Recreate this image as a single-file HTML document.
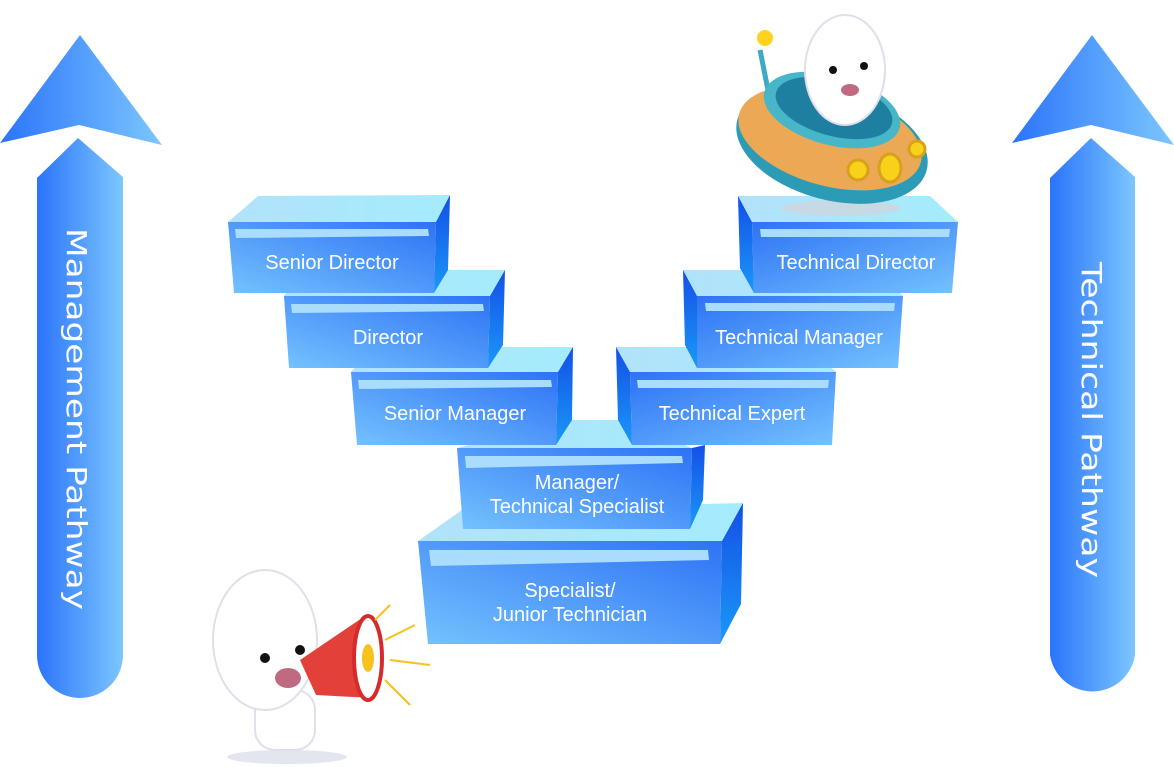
<!DOCTYPE html>
<html><head><meta charset="utf-8"><style>
html,body{margin:0;padding:0;background:#fff;width:1174px;height:767px;overflow:hidden}
svg{display:block}
text{font-family:"Liberation Sans",sans-serif;fill:#fff}
.ar{font-family:"DejaVu Sans","Liberation Sans",sans-serif}
</style></head><body>
<svg width="1174" height="767" viewBox="0 0 1174 767" xmlns="http://www.w3.org/2000/svg">
<defs>
<linearGradient id="ar" x1="0" y1="0" x2="1" y2="0"><stop offset="0" stop-color="#2a74fb"/><stop offset="1" stop-color="#7cc6ff"/></linearGradient>
<linearGradient id="fr" x1="0" y1="1" x2="1" y2="0"><stop offset="0" stop-color="#74c2fe"/><stop offset="1" stop-color="#2e72f6"/></linearGradient>
<linearGradient id="frR" x1="1" y1="1" x2="0" y2="0"><stop offset="0" stop-color="#74c2fe"/><stop offset="1" stop-color="#2e72f6"/></linearGradient>
<linearGradient id="tp" x1="0" y1="0" x2="1" y2="0"><stop offset="0" stop-color="#b2e2fb"/><stop offset="1" stop-color="#a4ecfd"/></linearGradient>
<linearGradient id="sd" x1="0" y1="0" x2="0" y2="1"><stop offset="0" stop-color="#1450e6"/><stop offset="1" stop-color="#1a98f8"/></linearGradient>
</defs>
<polygon points="80,35 162,145 79,125 0,143" fill="url(#ar)"/>
<path d="M37,178 L78,138 L123,177 L123,655 A43,43 0 0 1 37,655 Z" fill="url(#ar)"/>
<text class="ar" transform="translate(75,419) rotate(90)" font-size="28" text-anchor="middle" dominant-baseline="middle" textLength="382" lengthAdjust="spacingAndGlyphs">Management Pathway</text>
<polygon points="1092,35 1174,145 1091,125 1012,143" fill="url(#ar)"/>
<path d="M1050,178 L1091,138 L1135,177 L1135,655 A43,43 0 0 1 1050,655 Z" fill="url(#ar)"/>
<text class="ar" transform="translate(1090,420) rotate(90)" font-size="28" text-anchor="middle" dominant-baseline="middle" textLength="316" lengthAdjust="spacingAndGlyphs">Technical Pathway</text>

<g>
<polygon points="418,541 462,510 743,503 722,541" fill="url(#tp)"/>
<polygon points="722,541 743,503 741,604 720,644" fill="url(#sd)"/>
<polygon points="418,541 722,541 720,644 428,644" fill="url(#fr)"/>
<polygon points="429,550 708,550 709,560 431,566" fill="#a9dcfd"/>
<text x="570" y="597" font-size="20" text-anchor="middle">Specialist/</text>
<text x="570" y="621" font-size="20" text-anchor="middle">Junior Technician</text>
</g>
<g>
<polygon points="457,448 568,420 628,420 692,448" fill="url(#tp)"/>
<polygon points="692,448 705,445 703,500 690,529" fill="url(#sd)"/>
<polygon points="457,448 692,448 690,529 463,529" fill="url(#fr)"/>
<polygon points="465,456 682,456 683,463 466,468" fill="#a9dcfd"/>
<text x="577" y="489" font-size="20" text-anchor="middle">Manager/</text>
<text x="577" y="513" font-size="20" text-anchor="middle">Technical Specialist</text>
</g>

<g>
<polygon points="351,372 372,347 573,347 558,372" fill="url(#tp)"/>
<polygon points="558,372 573,347 572,420 556,445" fill="url(#sd)"/>
<polygon points="351,372 558,372 556,445 357,445" fill="url(#fr)"/>
<polygon points="358,380 551,380 552,387 359,389" fill="#a9dcfd"/>
<text x="455" y="420" font-size="20" text-anchor="middle">Senior Manager</text>
</g>
<g>
<polygon points="284,296 303,270 505,270 490,296" fill="url(#tp)"/>
<polygon points="490,296 505,270 503,345 488,368" fill="url(#sd)"/>
<polygon points="284,296 490,296 488,368 289,368" fill="url(#fr)"/>
<polygon points="291,304 483,304 484,311 292,313" fill="#a9dcfd"/>
<text x="388" y="344" font-size="20" text-anchor="middle">Director</text>
</g>
<g>
<polygon points="228,222 258,196 450,195 436,222" fill="url(#tp)"/>
<polygon points="436,222 450,195 448,270 434,293" fill="url(#sd)"/>
<polygon points="228,222 436,222 434,293 234,293" fill="url(#fr)"/>
<polygon points="235,229 428,229 429,236 236,238" fill="#a9dcfd"/>
<text x="332" y="269" font-size="20" text-anchor="middle">Senior Director</text>
</g>
<g>
<polygon points="616,347 808,347 836,372 630,372" fill="url(#tp)"/>
<polygon points="616,347 630,372 632,445 618,420" fill="url(#sd)"/>
<polygon points="630,372 836,372 832,445 632,445" fill="url(#frR)"/>
<polygon points="637,380 829,380 828,388 638,388" fill="#a9dcfd"/>
<text x="732" y="420" font-size="20" text-anchor="middle">Technical Expert</text>
</g>
<g>
<polygon points="683,270 880,270 903,296 697,296" fill="url(#tp)"/>
<polygon points="683,270 697,296 697,368 685,345" fill="url(#sd)"/>
<polygon points="697,296 903,296 898,368 697,368" fill="url(#frR)"/>
<polygon points="705,303 895,303 894,311 706,311" fill="#a9dcfd"/>
<text x="799" y="344" font-size="20" text-anchor="middle">Technical Manager</text>
</g>
<g>
<polygon points="738,196 930,196 958,222 752,222" fill="url(#tp)"/>
<polygon points="738,196 752,222 754,293 740,268" fill="url(#sd)"/>
<polygon points="752,222 958,222 952,293 754,293" fill="url(#frR)"/>
<polygon points="760,229 950,229 949,237 761,237" fill="#a9dcfd"/>
<text x="856" y="269" font-size="20" text-anchor="middle">Technical Director</text>
</g>

<ellipse cx="840" cy="208" rx="60" ry="8" fill="#c6d9e4"/>
<line x1="760" y1="50" x2="768" y2="90" stroke="#3da9c4" stroke-width="5"/>
<circle cx="765" cy="38" r="8" fill="#ffd21e"/>
<ellipse cx="832" cy="145" rx="98" ry="55" transform="rotate(15 832 145)" fill="#2c9bb5"/>
<ellipse cx="830" cy="138" rx="94" ry="48" transform="rotate(15 830 138)" fill="#eba955"/>
<ellipse cx="832" cy="110" rx="70" ry="35" transform="rotate(15 832 110)" fill="#47b6c8"/>
<ellipse cx="834" cy="108" rx="60" ry="28" transform="rotate(15 834 108)" fill="#1f7fa0"/>
<ellipse cx="845" cy="70" rx="40" ry="55" fill="#fff" stroke="#dfe0ea" stroke-width="2"/>
<circle cx="833" cy="70" r="4" fill="#111"/><circle cx="864" cy="66" r="4" fill="#111"/>
<ellipse cx="850" cy="90" rx="9" ry="6" fill="#c06a82"/>
<circle cx="858" cy="170" r="10" fill="#f8d21a" stroke="#d9a01a" stroke-width="3"/>
<ellipse cx="890" cy="168" rx="11" ry="14" fill="#f8d21a" stroke="#d9a01a" stroke-width="3"/>
<circle cx="917" cy="149" r="8" fill="#f8d21a" stroke="#d9a01a" stroke-width="3"/>

<ellipse cx="287" cy="757" rx="60" ry="7" fill="#e3e6ee"/>
<rect x="255" y="690" width="60" height="60" rx="20" fill="#fff" stroke="#dfe0ea" stroke-width="2"/>
<ellipse cx="265" cy="640" rx="52" ry="70" fill="#fff" stroke="#dfe0ea" stroke-width="2"/>
<circle cx="265" cy="658" r="5" fill="#111"/><circle cx="300" cy="650" r="5" fill="#111"/>
<ellipse cx="288" cy="678" rx="13" ry="10" fill="#c06a82"/>
<polygon points="300,660 362,618 372,698 316,695" fill="#e4403a"/>
<ellipse cx="368" cy="658" rx="14" ry="42" fill="#fff" stroke="#d42c2c" stroke-width="4"/>
<ellipse cx="368" cy="658" rx="6" ry="14" fill="#f6c21b"/>
<g stroke="#f5c21b" stroke-width="2">
<line x1="385" y1="640" x2="415" y2="625"/><line x1="390" y1="660" x2="430" y2="665"/><line x1="385" y1="680" x2="410" y2="705"/><line x1="375" y1="620" x2="390" y2="605"/>
</g>
</svg>
</body></html>
